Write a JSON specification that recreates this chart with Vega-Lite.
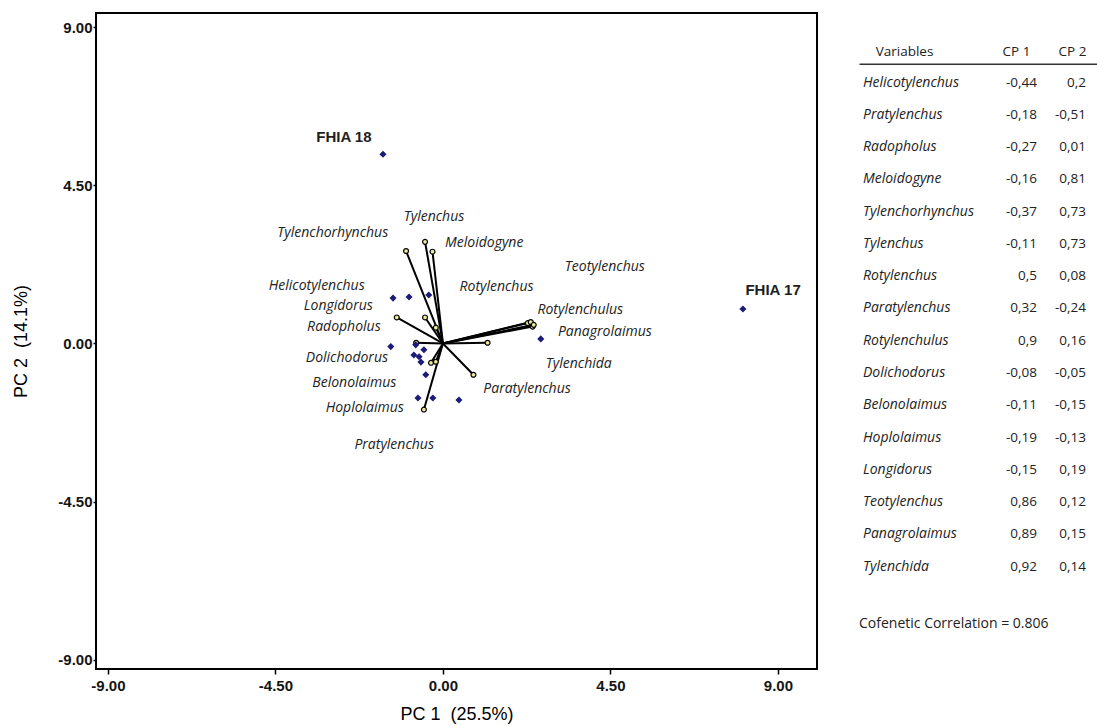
{
  "$schema": "https://vega.github.io/schema/vega-lite/v6.json",
  "padding": {"left": 11, "top": 12, "right": 0, "bottom": 1},
  "background": "white",
  "config": {"view": {"stroke": null}, "font": "Liberation Sans"},
  "spacing": 41,
  "datasets": {
    "vectors": [
      {"variable": "Helicotylenchus", "pc1": -1.24, "pc2": 0.74, "label_pc1": -3.39, "label_pc2": 1.64},
      {"variable": "Pratylenchus", "pc1": -0.51, "pc2": -1.88, "label_pc1": -1.31, "label_pc2": -2.88},
      {"variable": "Radopholus", "pc1": -0.72, "pc2": 0.02, "label_pc1": -2.66, "label_pc2": 0.46},
      {"variable": "Meloidogyne", "pc1": -0.28, "pc2": 2.61, "label_pc1": 1.11, "label_pc2": 2.87},
      {"variable": "Tylenchorhynchus", "pc1": -0.99, "pc2": 2.63, "label_pc1": -2.96, "label_pc2": 3.13},
      {"variable": "Tylenchus", "pc1": -0.48, "pc2": 2.89, "label_pc1": -0.24, "label_pc2": 3.6},
      {"variable": "Rotylenchus", "pc1": 1.2, "pc2": 0.02, "label_pc1": 1.44, "label_pc2": 1.61},
      {"variable": "Paratylenchus", "pc1": 0.82, "pc2": -0.89, "label_pc1": 2.26, "label_pc2": -1.3},
      {"variable": "Rotylenchulus", "pc1": 2.41, "pc2": 0.48, "label_pc1": 3.69, "label_pc2": 0.95},
      {"variable": "Dolichodorus", "pc1": -0.19, "pc2": 0.45, "label_pc1": -2.58, "label_pc2": -0.42},
      {"variable": "Belonolaimus", "pc1": -0.32, "pc2": -0.55, "label_pc1": -2.38, "label_pc2": -1.13},
      {"variable": "Hoplolaimus", "pc1": -0.19, "pc2": -0.52, "label_pc1": -2.1, "label_pc2": -1.84},
      {"variable": "Longidorus", "pc1": -0.48, "pc2": 0.74, "label_pc1": -2.81, "label_pc2": 1.07},
      {"variable": "Teotylenchus", "pc1": 2.28, "pc2": 0.58, "label_pc1": 4.35, "label_pc2": 2.18},
      {"variable": "Panagrolaimus", "pc1": 2.36, "pc2": 0.61, "label_pc1": 4.35, "label_pc2": 0.32},
      {"variable": "Tylenchida", "pc1": 2.44, "pc2": 0.53, "label_pc1": 3.65, "label_pc2": -0.59}
    ],
    "observations": [
      {"label": "FHIA 18", "pc1": -1.61, "pc2": 5.38, "label_pc1": -2.66, "label_pc2": 5.87},
      {"label": "FHIA 17", "pc1": 8.06, "pc2": 0.98, "label_pc1": 8.87, "label_pc2": 1.52},
      {"label": null, "pc1": 2.63, "pc2": 0.13},
      {"label": null, "pc1": 0.43, "pc2": -1.61},
      {"label": null, "pc1": -1.34, "pc2": 1.29},
      {"label": null, "pc1": -0.91, "pc2": 1.32},
      {"label": null, "pc1": -0.38, "pc2": 1.38},
      {"label": null, "pc1": -0.67, "pc2": -1.55},
      {"label": null, "pc1": -0.27, "pc2": -1.55},
      {"label": null, "pc1": -0.46, "pc2": -0.89},
      {"label": null, "pc1": -0.78, "pc2": -0.33},
      {"label": null, "pc1": -0.64, "pc2": -0.38},
      {"label": null, "pc1": -0.51, "pc2": -0.18},
      {"label": null, "pc1": -1.4, "pc2": -0.09},
      {"label": null, "pc1": -0.73, "pc2": -0.04},
      {"label": null, "pc1": -0.59, "pc2": -0.53}
    ],
    "loadings": [
      {"variable": "Helicotylenchus", "cp1": -0.44, "cp2": 0.2},
      {"variable": "Pratylenchus", "cp1": -0.18, "cp2": -0.51},
      {"variable": "Radopholus", "cp1": -0.27, "cp2": 0.01},
      {"variable": "Meloidogyne", "cp1": -0.16, "cp2": 0.81},
      {"variable": "Tylenchorhynchus", "cp1": -0.37, "cp2": 0.73},
      {"variable": "Tylenchus", "cp1": -0.11, "cp2": 0.73},
      {"variable": "Rotylenchus", "cp1": 0.5, "cp2": 0.08},
      {"variable": "Paratylenchus", "cp1": 0.32, "cp2": -0.24},
      {"variable": "Rotylenchulus", "cp1": 0.9, "cp2": 0.16},
      {"variable": "Dolichodorus", "cp1": -0.08, "cp2": -0.05},
      {"variable": "Belonolaimus", "cp1": -0.11, "cp2": -0.15},
      {"variable": "Hoplolaimus", "cp1": -0.19, "cp2": -0.13},
      {"variable": "Longidorus", "cp1": -0.15, "cp2": 0.19},
      {"variable": "Teotylenchus", "cp1": 0.86, "cp2": 0.12},
      {"variable": "Panagrolaimus", "cp1": 0.89, "cp2": 0.15},
      {"variable": "Tylenchida", "cp1": 0.92, "cp2": 0.14}
    ]
  },
  "hconcat": [
    {
      "width": 721,
      "height": 656,
      "view": {"stroke": "black", "strokeWidth": 2},
      "layer": [
        {
          "data": {"name": "vectors"},
          "mark": {"type": "rule", "color": "black", "strokeWidth": 2},
          "encoding": {
            "x": {"field": "pc1", "type": "quantitative", "scale": {"domain": [-9.32, 10.05], "nice": false, "zero": false},
              "axis": {"values": [-9, -4.5, 0, 4.5, 9], "grid": false, "domain": false, "tickSize": 5, "tickWidth": 1.5, "tickColor": "black",
                "labelExpr": "datum.value < 0 ? '-' + format(-datum.value, '.2f') : format(datum.value, '.2f')",
                "labelFont": "Liberation Sans", "labelFontWeight": "bold", "labelFontSize": 15, "labelColor": "#151515", "labelPadding": 4,
                "title": "PC 1\u00a0 (25.5%)", "titleFont": "Liberation Sans", "titleFontSize": 18, "titleFontWeight": "normal", "titleColor": "black", "titlePadding": 12}},
            "x2": {"datum": 0},
            "y": {"field": "pc2", "type": "quantitative", "scale": {"domain": [-9.26, 9.4], "nice": false, "zero": false},
              "axis": {"values": [-9, -4.5, 0, 4.5, 9], "grid": false, "domain": false, "tickSize": 3, "tickWidth": 1.5, "tickColor": "black",
                "labelExpr": "datum.value < 0 ? '-' + format(-datum.value, '.2f') : format(datum.value, '.2f')",
                "labelFont": "Liberation Sans", "labelFontWeight": "bold", "labelFontSize": 15, "labelColor": "#151515", "labelPadding": 1,
                "minExtent": 40, "maxExtent": 40,
                "title": "PC 2\u00a0 (14.1%)", "titleFont": "Liberation Sans", "titleFontSize": 18, "titleFontWeight": "normal", "titleColor": "black", "titlePadding": 26}},
            "y2": {"datum": 0}
          }
        },
        {
          "data": {"name": "vectors"},
          "mark": {"type": "point", "shape": "circle", "filled": true, "fill": "#eaea9a", "stroke": "black", "strokeWidth": 1.2, "size": 24, "opacity": 1},
          "encoding": {
            "x": {"field": "pc1", "type": "quantitative"},
            "y": {"field": "pc2", "type": "quantitative"}
          }
        },
        {
          "data": {"name": "observations"},
          "mark": {"type": "point", "shape": "diamond", "filled": true, "color": "#1c1c78", "size": 50, "opacity": 1},
          "encoding": {
            "x": {"field": "pc1", "type": "quantitative"},
            "y": {"field": "pc2", "type": "quantitative"}
          }
        },
        {
          "data": {"name": "vectors"},
          "mark": {"type": "text", "font": "Open Sans", "fontStyle": "italic", "fontSize": 14, "color": "#222", "align": "center", "baseline": "middle"},
          "encoding": {
            "x": {"field": "label_pc1", "type": "quantitative"},
            "y": {"field": "label_pc2", "type": "quantitative"},
            "text": {"field": "variable", "type": "nominal"}
          }
        },
        {
          "data": {"name": "observations"},
          "transform": [{"filter": "datum.label != null"}],
          "mark": {"type": "text", "font": "Liberation Sans", "fontWeight": "bold", "fontSize": 15, "color": "#1e1e1e", "align": "center", "baseline": "middle"},
          "encoding": {
            "x": {"field": "label_pc1", "type": "quantitative"},
            "y": {"field": "label_pc2", "type": "quantitative"},
            "text": {"field": "label", "type": "nominal"}
          }
        }
      ]
    },
    {
      "width": 239,
      "height": 600,
      "view": {"stroke": null},
      "data": {"name": "loadings"},
      "title": {"text": "Cofenetic Correlation = 0.806", "orient": "bottom", "anchor": "start", "offset": 4, "font": "Open Sans", "fontSize": 14, "fontWeight": "normal", "color": "#222"},
      "transform": [
        {"calculate": "replace('' + datum.cp1, '.', ',')", "as": "cp1_text"},
        {"calculate": "replace('' + datum.cp2, '.', ',')", "as": "cp2_text"}
      ],
      "encoding": {
        "y": {"field": "variable", "type": "nominal", "axis": null,
          "scale": {"type": "point", "padding": 0.8, "align": 0.1,
            "domain": ["_1", "_2", "Helicotylenchus", "Pratylenchus", "Radopholus", "Meloidogyne", "Tylenchorhynchus", "Tylenchus", "Rotylenchus", "Paratylenchus", "Rotylenchulus", "Dolichodorus", "Belonolaimus", "Hoplolaimus", "Longidorus", "Teotylenchus", "Panagrolaimus", "Tylenchida"]}}
      },
      "layer": [
        {
          "mark": {"type": "text", "align": "left", "dx": -41, "baseline": "middle", "font": "Open Sans", "fontStyle": "italic", "fontSize": 14, "color": "#222"},
          "encoding": {
            "x": {"datum": "Variables", "type": "nominal",
              "scale": {"type": "point", "domain": ["Variables", "gap", "CP 1", "CP 2"], "padding": 0.634, "align": 0.634},
              "axis": {"orient": "top", "offset": -50.7, "title": null, "ticks": false, "grid": false, "labelPadding": 5, "labelAngle": 0,
                "domainColor": "#333", "domainWidth": 1.5, "labelFont": "Open Sans", "labelFontSize": 13.5, "labelColor": "#222", "labelOverlap": false,
                "labelExpr": "datum.value == 'gap' ? '' : datum.label"}},
            "text": {"field": "variable", "type": "nominal"}
          }
        },
        {
          "mark": {"type": "text", "align": "right", "dx": 21, "baseline": "middle", "font": "Open Sans", "fontSize": 13.5, "color": "#222"},
          "encoding": {
            "x": {"datum": "CP 1", "type": "nominal"},
            "text": {"field": "cp1_text", "type": "nominal"}
          }
        },
        {
          "mark": {"type": "text", "align": "right", "dx": 14, "baseline": "middle", "font": "Open Sans", "fontSize": 13.5, "color": "#222"},
          "encoding": {
            "x": {"datum": "CP 2", "type": "nominal"},
            "text": {"field": "cp2_text", "type": "nominal"}
          }
        }
      ]
    }
  ]
}
